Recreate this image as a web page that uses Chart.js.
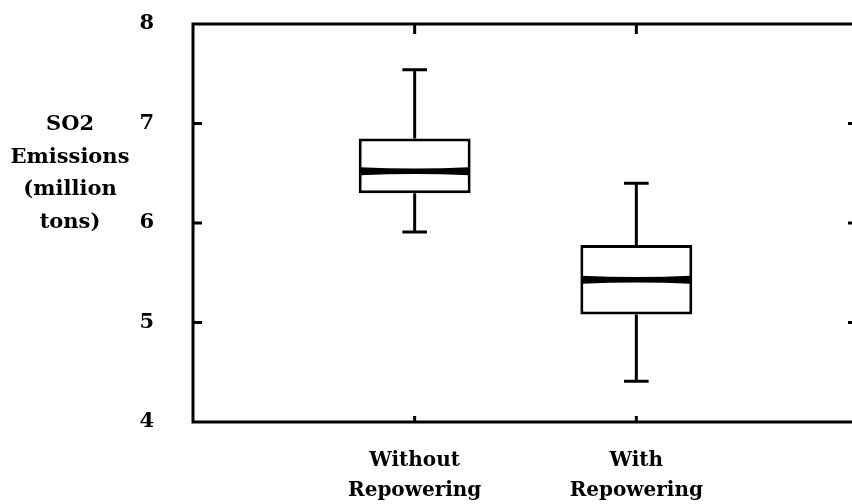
<!DOCTYPE html>
<html>
<head>
<meta charset="utf-8">
<script src="https://cdn.jsdelivr.net/npm/chart.js@4/dist/chart.umd.min.js"></script>
<style>
  html, body { margin: 0; padding: 0; background: #fff; overflow: hidden; }
  #wrap { width: 862px; height: 504px; }
</style>
</head>
<body>
<div id="wrap"><canvas id="c" width="862" height="504"></canvas></div>
<script>
// ---- data ----
const categories = ['Without Repowering', 'With Repowering'];
const whiskerMin = [5.91, 4.41];
const q1 = [6.30, 5.08];
const median = [6.52, 5.43];
const q3 = [6.85, 5.78];
const whiskerMax = [7.54, 6.40];
const yTicks = [4, 5, 6, 7, 8];
const yTitleLines = ['SO2', 'Emissions', '(million', 'tons)'];

// labels padded with empty slots so the categories sit at 1/3 and 2/3 of the axis
const xLabels = [''].concat(categories.map(c => c.split(' '))).concat(['']);
const boxData = [null].concat(categories.map((c, i) => [q1[i], q3[i]])).concat([null]);

const FONT = 'DejaVu Serif';

const boxPlugin = {
  id: 'boxExtras',
  afterDatasetsDraw(chart) {
    const { ctx, chartArea: a, scales: { x, y } } = chart;
    const meta = chart.getDatasetMeta(0);
    ctx.save();
    ctx.strokeStyle = '#000';
    ctx.fillStyle = '#000';
    ctx.lineWidth = 3;
    ctx.lineCap = 'butt';
    categories.forEach((c, i) => {
      const idx = i + 1;
      const bar = meta.data[idx];
      const xc = x.getPixelForValue(idx);
      const half = bar.width / 2;
      const cap = bar.width * 0.11;
      const yq1 = y.getPixelForValue(q1[i]);
      const yq3 = y.getPixelForValue(q3[i]);
      const ymin = y.getPixelForValue(whiskerMin[i]);
      const ymax = y.getPixelForValue(whiskerMax[i]);
      const ymed = y.getPixelForValue(median[i]);
      // whiskers
      ctx.beginPath();
      ctx.moveTo(xc, yq3); ctx.lineTo(xc, ymax);
      ctx.moveTo(xc - cap, ymax); ctx.lineTo(xc + cap, ymax);
      ctx.moveTo(xc, yq1); ctx.lineTo(xc, ymin);
      ctx.moveTo(xc - cap, ymin); ctx.lineTo(xc + cap, ymin);
      ctx.stroke();
      // notched median band
      const x0 = xc - half + 1.5, x1 = xc + half - 1.5;
      const e = 4, m = 1.6;
      ctx.beginPath();
      ctx.moveTo(x0, ymed - e);
      ctx.quadraticCurveTo(xc, ymed - m, x1, ymed - e);
      ctx.lineTo(x1, ymed + e);
      ctx.quadraticCurveTo(xc, ymed + m, x0, ymed + e);
      ctx.closePath();
      ctx.fill();
    });
    // frame
    ctx.lineWidth = 3;
    ctx.strokeRect(a.left, a.top, a.right - a.left, a.bottom - a.top);
    // inward tick marks
    ctx.beginPath();
    yTicks.slice(1, -1).forEach(v => {
      const py = y.getPixelForValue(v);
      ctx.moveTo(a.left, py); ctx.lineTo(a.left + 9, py);
      ctx.moveTo(a.right - 10, py); ctx.lineTo(a.right, py);
    });
    categories.forEach((c, i) => {
      const px = x.getPixelForValue(i + 1);
      ctx.moveTo(px, a.bottom); ctx.lineTo(px, a.bottom - 6);
      ctx.moveTo(px, a.top); ctx.lineTo(px, a.top + 10);
    });
    ctx.stroke();
    ctx.restore();
  },
  afterDraw(chart) {
    const { ctx } = chart;
    ctx.save();
    ctx.fillStyle = '#000';
    ctx.font = 'bold 21px "' + FONT + '"';
    ctx.textAlign = 'center';
    ctx.textBaseline = 'middle';
    yTitleLines.forEach((t, k) => ctx.fillText(t, 70, 125 + k * 32.5));
    ctx.restore();
  }
};

new Chart(document.getElementById('c'), {
  type: 'bar',
  data: {
    labels: xLabels,
    datasets: [{
      data: boxData,
      backgroundColor: '#ffffff',
      borderColor: '#000000',
      borderWidth: 3,
      borderSkipped: false,
      barPercentage: 0.505,
      categoryPercentage: 1
    }]
  },
  options: {
    responsive: false,
    animation: false,
    devicePixelRatio: 1,
    layout: { padding: { left: 0, top: 24, right: 4, bottom: 0 } },
    plugins: { legend: { display: false }, tooltip: { enabled: false }, title: { display: false } },
    scales: {
      x: {
        type: 'category',
        offset: false,
        grid: { display: false },
        border: { display: false },
        ticks: {
          autoSkip: false, maxRotation: 0, minRotation: 0,
          color: '#000', padding: 16,
          font: { family: FONT, weight: 'bold', size: 20, lineHeight: 1.5 }
        },
        afterFit: s => { s.height = 82; s.paddingLeft = 0; s.paddingRight = 0; s.paddingTop = 0; s.paddingBottom = 0; }
      },
      y: {
        min: 4, max: 8,
        grid: { display: false },
        border: { display: false },
        ticks: {
          stepSize: 1, color: '#000', padding: 31,
          font: { family: FONT, weight: 'bold', size: 21 }
        },
        afterFit: s => { s.width = 193; s.paddingLeft = 0; s.paddingRight = 0; s.paddingTop = 0; s.paddingBottom = 0; }
      }
    }
  },
  plugins: [boxPlugin]
});
</script>
</body>
</html>
